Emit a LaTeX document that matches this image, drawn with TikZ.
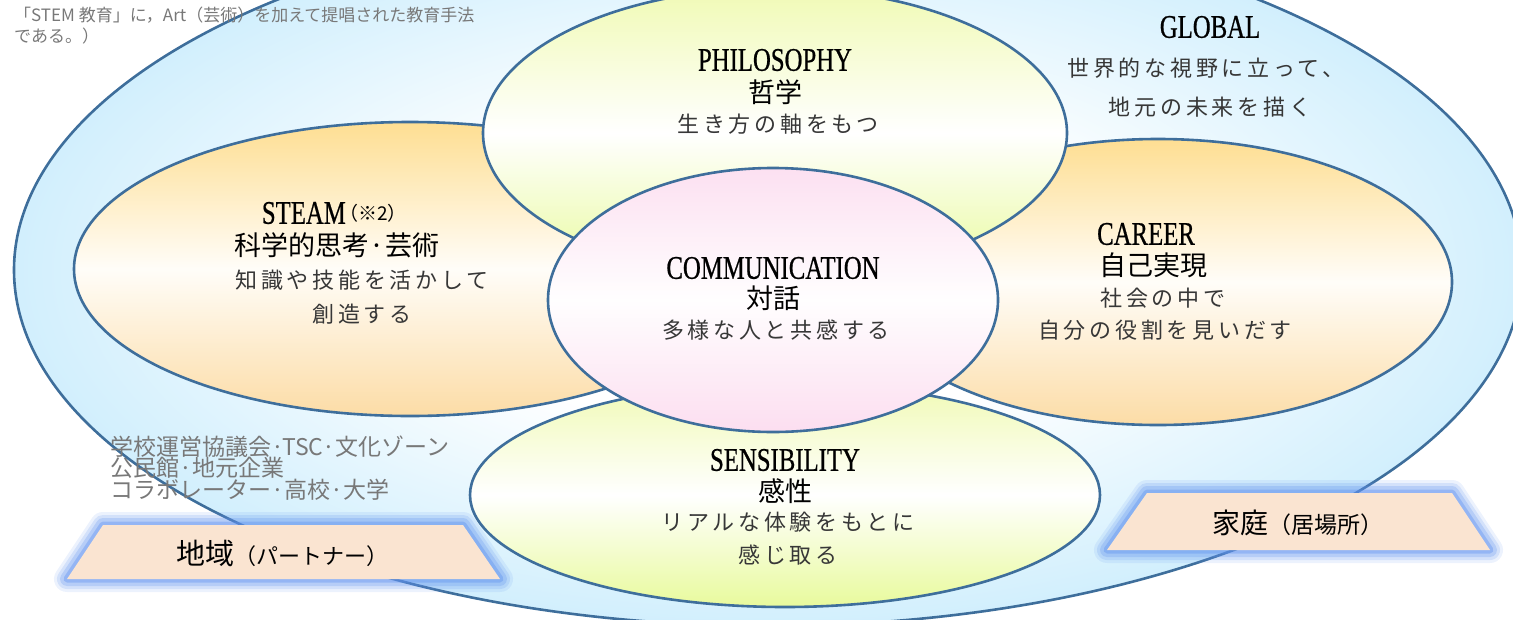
\documentclass[tikz,border=0pt]{standalone}
\usepackage{fontspec}
\setmainfont{Liberation Serif}
\newfontfamily\latinttl[FakeStretch=0.75, FakeBold=0.6]{Liberation Serif}
\newfontfamily\jpgothic{Noto Sans CJK JP}
\newfontfamily\jpspaced[LetterSpace=17]{Noto Sans CJK JP}
\usetikzlibrary{positioning}

\definecolor{edgeblue}{RGB}{62,110,155}
\definecolor{skyblue}{RGB}{164,223,251}
\definecolor{orangetop}{RGB}{254,222,146}
\definecolor{orangebot}{RGB}{252,220,166}
\definecolor{limetop}{RGB}{240,250,180}
\definecolor{limebot}{RGB}{232,250,156}
\definecolor{pinktop}{RGB}{252,224,241}
\definecolor{pinkbot}{RGB}{252,222,240}
\definecolor{peach}{RGB}{250,228,209}
\definecolor{glowblue}{RGB}{96,146,238}
\definecolor{notegray}{RGB}{120,120,120}
\definecolor{subgray}{RGB}{55,55,55}
\pgfdeclareradialshading{outerglow}{\pgfpoint{0bp}{0bp}}{color(0bp)=(white); color(11bp)=(white); color(25bp)=(skyblue!50!white); color(35bp)=(skyblue); color(50bp)=(skyblue)}

\tikzset{
  petal/.style={draw=edgeblue, line width=2.6pt},
  ttl/.style={font=\latinttl\fontsize{33}{33}\selectfont, inner sep=0pt},
  jttl/.style={font=\jpgothic\fontsize{27}{27}\selectfont, inner sep=0pt},
  jsub/.style={font=\jpspaced\fontsize{22}{22}\selectfont, text=subgray, inner sep=0pt},
  plate/.style={fill=peach},
}

\begin{document}
\begin{tikzpicture}[x=1pt, y=-1pt]
        \clip (0,0) rectangle (1513,619);

        % outer field
        \draw[petal, shading=outerglow] (768,270) ellipse [x radius=754pt, y radius=356pt];

        % petals
        \draw[petal, top color=orangetop, bottom color=orangebot, middle color=white!94!orangetop] (410,269) ellipse [x radius=336pt, y radius=147pt];
        \draw[petal, top color=orangetop, bottom color=orangebot, middle color=white!94!orangetop] (1158,282) ellipse [x radius=294pt, y radius=143pt];
        \draw[petal, top color=limetop, bottom color=limebot, middle color=white] (785,495) ellipse [x radius=315pt, y radius=112pt];
        \draw[petal, top color=limetop, bottom color=limebot, middle color=white] (775,133) ellipse [x radius=292pt, y radius=145pt];
        \draw[petal, top color=pinktop, bottom color=pinkbot, middle color=white!96!pinktop] (773,300) ellipse [x radius=225pt, y radius=132pt];

        % plates
        \coordinate (ca) at (103,525);
        \coordinate (cb) at (463,525);
        \coordinate (cc) at (500,579);
        \coordinate (cd) at (67,579);
        \coordinate (ha) at (1147,493);
        \coordinate (hb) at (1452,493);
        \coordinate (hc) at (1490,550);
        \coordinate (hd) at (1107,550);
        \foreach \w/\o in {26/0.12, 20/0.18, 14/0.25, 7/0.4}{
            \draw[glowblue, line width=\w pt, opacity=\o, line join=round] (ca)--(cb)--(cc)--(cd)--cycle;
            \draw[glowblue, line width=\w pt, opacity=\o, line join=round] (ha)--(hb)--(hc)--(hd)--cycle;
        }
        \fill[plate] (ca)--(cb)--(cc)--(cd)--cycle;
        \fill[plate] (ha)--(hb)--(hc)--(hd)--cycle;

        % texts
        \node[anchor=west, align=left, inner sep=0pt, text=notegray, font=\jpgothic\fontsize{17}{20.5}\selectfont] (note) at (14,25.5) {「STEM 教育」に，Art（芸術）を加えて提唱された教育手法\\である。）};

        \node[ttl] (philT) at (775,60) {PHILOSOPHY};
        \node[jttl] (philJ) at (775,92) {哲学};
        \node[jsub] (philS) at (778,124) {生き方の軸をもつ};

        \node[ttl, anchor=east] (steamT) at (346,213) {STEAM};
        \node[inner sep=0pt, anchor=west, xshift=-7pt, font=\jpgothic\fontsize{19}{19}\selectfont] (steamN) at (steamT.east) {（※2）};
        \node[jttl] (steamJ) at (337,245) {科学的思考·芸術};
        \node[jsub] (steamS1) at (362,280) {知識や技能を活かして};
        \node[jsub] (steamS2) at (362,314) {創造する};

        \node[ttl] (commT) at (773,268) {COMMUNICATION};
        \node[jttl] (commJ) at (773,298) {対話};
        \node[jsub] (commS) at (776,330) {多様な人と共感する};

        \node[ttl] (careerT) at (1146,234) {CAREER};
        \node[jttl] (careerJ) at (1153,265) {自己実現};
        \node[jsub] (careerS1) at (1163,298) {社会の中で};
        \node[jsub] (careerS2) at (1165,330) {自分の役割を見いだす};

        \node[ttl] (senseT) at (785,460) {SENSIBILITY};
        \node[jttl] (senseJ) at (785,491) {感性};
        \node[jsub] (senseS1) at (788,522) {リアルな体験をもとに};
        \node[jsub] (senseS2) at (788,555) {感じ取る};

        \node[ttl] (globalT) at (1210,27) {GLOBAL};
        \node[jsub] (globalS1) at (1206,68) {世界的な視野に立って、};
        \node[jsub] (globalS2) at (1210,107) {地元の未来を描く};

        \node[anchor=west, align=left, inner sep=0pt, text=notegray, font=\jpgothic\fontsize{23}{21.5}\selectfont] (partners) at (110,468) {学校運営協議会·TSC·文化ゾーン\\公民館·地元企業\\コラボレーター·高校·大学};

        \node[inner sep=0pt, font=\jpgothic] (regionL) at (282,553) {\fontsize{29}{29}\selectfont 地域\fontsize{22}{22}\selectfont（パートナー）};
        \node[inner sep=0pt, font=\jpgothic] (homeL) at (1298,523) {\fontsize{28}{28}\selectfont 家庭\fontsize{23}{23}\selectfont（居場所）};
    \end{tikzpicture}
\end{document}
